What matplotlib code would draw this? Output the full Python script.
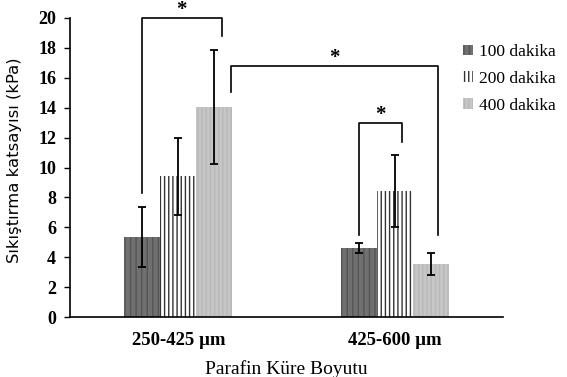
import numpy as np
import matplotlib
matplotlib.use("Agg")
import matplotlib.pyplot as plt
from matplotlib.patches import Patch

# data
groups = ["250-425 \u00b5m", "425-600 \u00b5m"]
series = ["100 dakika", "200 dakika", "400 dakika"]
vals_100 = [5.35, 4.6]
vals_200 = [9.4, 8.45]
vals_400 = [14.05, 3.55]
err_100 = [2.0, 0.35]
err_200 = [2.6, 2.4]
err_400 = [3.8, 0.75]

plt.rcParams['hatch.linewidth'] = 1.0
serif = 'Liberation Serif'

fig = plt.figure(figsize=(5.67, 3.77), dpi=100)
ax = fig.add_axes([70/567, 1-317/377, 433/567, 299/377])

x = np.arange(len(groups))
w = 0.167
styles = [
    dict(facecolor='#707070', hatch='|||', edgecolor='#555555'),
    dict(facecolor='white', hatch='||||', edgecolor='#333333'),
    dict(facecolor='#c6c6c6', hatch='||||', edgecolor='#b8b8b8'),
]
allvals = [vals_100, vals_200, vals_400]
allerr = [err_100, err_200, err_400]
for i in range(3):
    pos = x + (i - 1) * w
    ax.bar(pos, allvals[i], w, linewidth=0, **styles[i])
    ax.errorbar(pos, allvals[i], yerr=allerr[i], fmt='none', ecolor='black',
                elinewidth=1.3, capsize=3, capthick=1.3)

ax.set_xlim(-0.5, 1.5)
ax.set_ylim(0, 20)
ax.set_yticks(np.arange(0, 21, 2))
ax.set_xticks(x)
ax.set_xticklabels(groups, fontfamily=serif, fontsize=13.5, fontweight='bold')
for t in ax.get_yticklabels():
    t.set_fontfamily(serif)
    t.set_fontsize(13)
    t.set_fontweight('bold')
ax.tick_params(axis='x', length=0, pad=11)
ax.tick_params(axis='y', length=4, width=1, direction='out', pad=6)
ax.spines['top'].set_visible(False)
ax.spines['right'].set_visible(False)
ax.spines['left'].set_linewidth(1.2)
ax.spines['bottom'].set_linewidth(1.2)

ax.set_ylabel("S\u0131k\u0131\u015ft\u0131rma katsay\u0131s\u0131 (kPa)", fontfamily='DejaVu Sans',
              fontsize=11.8)
ax.yaxis.set_label_coords(-0.111, 0.525)
ax.set_xlabel("Parafin K\u00fcre Boyutu", fontfamily=serif, fontsize=14, labelpad=8)

# significance brackets
def bracket(x1, y1, x2, y2, top):
    ax.plot([x1, x1, x2, x2], [y1, top, top, y2], color='black', lw=1.2,
            clip_on=False)
    ax.annotate("*", xy=((x1 + x2) / 2, top), xytext=(0, -1.5), textcoords='offset points',
                ha='center', va='bottom', fontsize=15, fontweight='bold',
                fontfamily=serif, annotation_clip=False)

bracket(x[0] - w, 8.3, x[0] + w * 1.2, 18.8, 20.0)
bracket(x[0] + w * 1.45, 15.05, x[1] + w * 1.2, 5.5, 16.8)
bracket(x[1] - w, 5.5, x[1] + w * 0.2, 11.7, 13.0)

handles = [Patch(**s, linewidth=0) for s in styles]
leg = fig.legend(handles, series, loc='upper left', bbox_to_anchor=(463/567, 1-44/377),
                 frameon=False, handlelength=0.55, handleheight=0.55, handletextpad=0.35,
                 labelspacing=0.62, borderaxespad=0, borderpad=0,
                 prop=dict(family=serif, size=12.5))

fig.savefig("out.png", dpi=100)
